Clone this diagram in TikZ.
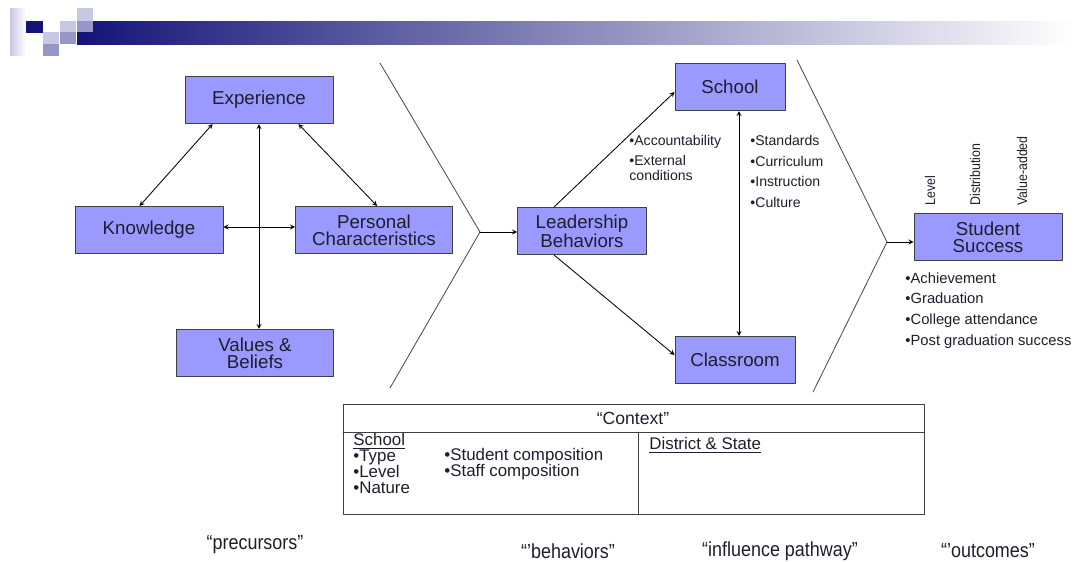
\documentclass[tikz,border=0pt]{standalone}
\usepackage{fontspec}
\setmainfont{Liberation Sans}
\newfontfamily\narrowfont[FakeStretch=0.88]{Liberation Sans}
\definecolor{boxblue}{RGB}{153,153,255}
\definecolor{navy}{RGB}{20,20,120}
\definecolor{barmid}{RGB}{175,175,205}
\definecolor{sqlight}{RGB}{200,200,228}
\definecolor{sqmid}{RGB}{150,150,200}
\definecolor{txtdark}{RGB}{30,30,45}
\begin{document}
\begin{tikzpicture}[x=0.025cm,y=-0.025cm,line join=round,line cap=round,>=stealth,line width=0.6pt,
    box/.style={draw=black!75,fill=boxblue,text=txtdark,align=center,minimum height=1.18cm,inner sep=1pt,font=\fontsize{13.3}{12}\selectfont},
    note/.style={anchor=north west,align=left,inner sep=0pt,text=txtdark},
    tag/.style={font=\narrowfont\fontsize{14.5}{16}\selectfont,text=txtdark},
    axislbl/.style={rotate=90,anchor=west,inner sep=0pt,text=txtdark,font=\narrowfont\fontsize{10}{12}\selectfont}]
    \useasboundingbox (0,0) rectangle (1084,561);
    % title bar
    \shade[left color=navy,middle color=barmid,right color=white] (77,21) rectangle (1075,44);
    \shade[left color=sqlight,right color=white] (10,8) rectangle (26,55);
    \fill[navy] (26,21) rectangle (43,33);
    \fill[sqlight] (43,32) rectangle (59,44);
    \fill[sqmid] (43,44) rectangle (59,56);
    \fill[sqlight] (60,21) rectangle (76,32);
    \fill[sqmid] (60,32) rectangle (76,44);
    \fill[sqlight] (77,8) rectangle (93,21);
    \fill[sqmid] (77,21) rectangle (93,32);
    % precursors
    \node[box,minimum width=3.7cm] (exp) at (259,100) {Experience};
    \node[box,minimum width=3.7cm] (know) at (149,230) {Knowledge};
    \node[box,minimum width=3.925cm] (pers) at (374,230) {Personal\\Characteristics};
    \node[box,minimum width=3.925cm] (val) at (255,353) {Values \&\\Beliefs};
    \draw[<->] ([xshift=0.7cm]exp.south west) -- ([xshift=1.625cm]know.north west);
    \draw[<->] ([xshift=-0.875cm]exp.south east) -- ([xshift=2.05cm]pers.north west);
    \draw[<->] (exp.south) -- (exp.south |- val.north);
    \draw[<->] ([yshift=0.075cm]know.east) -- ([yshift=0.075cm]pers.west);
    % behaviors
    \coordinate (tip1) at (480,232);
    \draw[black!70] (380,63) -- (tip1) -- (390,388);
    \node[box,minimum width=3.225cm] (lead) at (582,231) {Leadership\\Behaviors};
    \draw[->] (tip1) -- (tip1 -| lead.west);
    % influence pathway
    \node[box,minimum width=2.75cm] (school) at (730,87) {School};
    \node[box,minimum width=3cm] (class) at (735,360) {Classroom};
    \draw[->] ([xshift=0.925cm]lead.north west) -- ([yshift=-0.125cm]school.west);
    \draw[->] ([xshift=0.925cm]lead.south west) -- ([yshift=0.125cm]class.west);
    \draw[<->] ([xshift=0.225cm]school.south) -- ([xshift=0.225cm]school.south |- class.north);
    \node[note,font=\fontsize{10}{10.7}\selectfont] (acc) at (629,135) {•Accountability\\[3.6pt]•External\\conditions};
    \node[note,font=\fontsize{10}{14.6}\selectfont] (std) at (750,135) {•Standards\\•Curriculum\\•Instruction\\•Culture};
    % outcomes
    \coordinate (tip2) at (887,242);
    \draw[black!70] (797,60) -- (tip2) -- (813,392);
    \node[box,minimum width=3.7cm] (succ) at (988,237) {Student\\Success};
    \draw[->] (tip2) -- (tip2 -| succ.west);
    \node[axislbl] (lvl) at (930,206) {Level};
    \node[axislbl] (dist) at (975,206) {Distribution};
    \node[axislbl] (vadd) at (1022,206) {Value-added};
    \node[note,font=\fontsize{10.5}{14.7}\selectfont] (outc) at (905,272) {•Achievement\\•Graduation\\•College attendance\\•Post graduation success};
    % context
    \draw[black!75] (343,404) rectangle (924,514);
    \draw[black!75] (343,432) -- (924,432);
    \draw[black!75] (638,432) -- (638,514);
    \node[font=\fontsize{12.5}{14}\selectfont,text=txtdark] (ctx) at (633,418) {“Context”};
    \node[note,font=\fontsize{12}{11.4}\selectfont] (ctxschool) at (353,433) {\underline{School}\\•Type\\•Level\\•Nature};
    \node[note,font=\fontsize{12}{11.4}\selectfont] (ctxcomp) at (444,448) {•Student composition\\•Staff composition};
    \node[note,font=\fontsize{12}{14}\selectfont] (ctxdist) at (649,437) {\underline{District \& State}};
    % stage labels
    \node[tag] (pre) at (255,545) {“precursors”};
    \node[tag] (beh) at (568,551) {“’behaviors”};
    \node[tag] (path) at (780,551) {“influence pathway”};
    \node[tag] (out) at (988,551) {“’outcomes”};
\end{tikzpicture}
\end{document}
